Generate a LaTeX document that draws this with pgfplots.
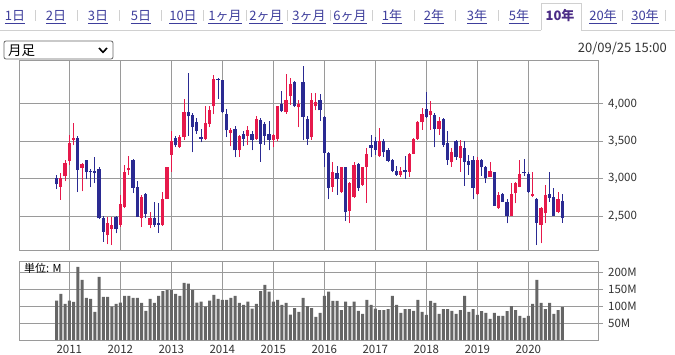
\documentclass[border=0pt]{standalone}
\usepackage{fontspec}
\setmainfont{Noto Sans CJK JP}
\usepackage{pgfplots}
\usepackage{pgfplotstable}
\pgfplotsset{compat=1.18}
\definecolor{upred}{HTML}{E6194B}
\definecolor{downblue}{HTML}{2A2A92}
\definecolor{volgray}{HTML}{666666}
\definecolor{gridgray}{HTML}{9A9A9A}
\definecolor{txt}{HTML}{333333}
\definecolor{linkc}{HTML}{3E3E9C}
\definecolor{activec}{HTML}{4B2C86}
\definecolor{sepc}{HTML}{D0D0D0}

\pgfplotstableread{
i o h l c
1 2890 3075 2720 3010
2 3030 3250 2965 3205
3 3240 3580 3185 3478
4 3520 3740 3445 3540
6 3140 3206 2830 3197
12 2245 2491 2120 2402
13 2326 2491 2111 2380
15 2380 2782 2357 2662
16 2626 3185 2603 3096
17 3110 3306 3051 3141
20 2469 2782 2357 2751
22 2380 2559 2335 2469
25 2380 2827 2370 2729
26 2729 3163 2725 3150
27 3320 3633 3096 3508
29 3423 3590 3410 3557
30 3557 4067 3521 3888
35 3535 3969 3521 3745
36 3731 3969 3687 3924
37 3969 4394 3860 4340
41 3611 3678 3432 3646
43 3378 3588 3288 3575
45 3575 3700 3454 3655
47 3530 3843 3521 3798
51 3521 3602 3418 3588
52 3530 3978 3499 3969
54 3888 4407 3870 4058
55 4103 4349 3991 4273
57 3955 4058 3687 4000
60 3552 4148 3521 4058
61 3969 4148 3915 4022
65 2894 3217 2827 3087
67 2827 3163 2814 3154
69 2572 2962 2402 2948
70 2751 3217 2738 3185
72 2917 3163 2903 3154
73 3163 3409 2680 3333
76 3297 3678 3288 3499
81 3051 3150 3029 3105
83 3096 3342 3020 3333
84 3333 3543 3329 3530
85 3535 3770 3521 3754
86 3754 3946 3655 3870
88 3857 4045 3655 3902
90 3664 3830 3590 3776
93 3217 3409 3163 3351
95 3275 3521 3096 3441
99 2791 3284 2782 3252
102 3029 3221 3020 3105
104 2603 2818 2595 2782
107 2505 2948 2500 2791
108 2805 2962 2671 2939
109 2894 3244 2885 3065
112 2774 3087 2751 2791
114 2380 2627 2134 2603
115 2536 2917 2402 2782
118 2559 2818 2536 2724
}\upT

\pgfplotstableread{
i o h l c
0 3005 3050 2860 2925
5 3550 3570 2820 3120
7 3250 3255 2990 3085
8 3105 3127 2885 3083
9 3105 3288 2940 3073
10 3132 3163 2460 2469
11 2475 2500 2156 2290
14 2492 2500 2268 2326
18 3244 3261 2805 2881
19 2894 2975 2485 2492
21 2791 2805 2469 2527
23 2469 2693 2350 2380
24 2400 2671 2277 2380
28 3543 3575 3423 3445
31 3893 4416 3575 3834
32 3857 3880 3351 3691
33 3754 3811 3602 3633
34 3555 3660 3485 3535
38 4340 4350 4067 4322
39 4318 4327 3879 3888
40 3870 3933 3557 3646
42 3664 3700 3284 3378
44 3602 3642 3432 3535
46 3602 3633 3378 3512
48 3790 3811 3230 3467
49 3736 3754 3454 3575
50 3602 3776 3378 3521
53 4000 4170 3888 3902
56 4291 4304 3955 3969
58 4295 4515 3512 3825
59 3798 3834 3454 3535
62 4058 4139 3776 3915
63 3825 3843 3154 3342
64 3342 3351 2724 2881
66 3073 3172 2782 2993
68 3154 3163 2438 2559
71 3199 3208 2841 2881
74 3454 3588 3284 3409
75 3508 3552 3320 3387
77 3508 3530 3288 3351
78 3387 3409 3217 3239
79 3252 3261 3083 3105
80 3105 3172 3038 3051
82 3114 3297 2993 3083
87 3933 4161 3811 3825
89 3857 3880 3418 3664
91 3803 3811 3423 3454
92 3477 3633 3185 3252
94 3499 3512 3252 3288
96 3409 3508 2903 3230
97 3239 3320 3051 3185
98 3252 3306 2724 2881
100 3252 3261 3038 3150
101 3163 3172 2939 3006
103 3087 3096 2635 2639
105 2791 2814 2693 2693
106 2693 2724 2402 2505
110 3096 3261 3038 3078
111 3065 3096 2814 2827
113 2724 2738 2111 2411
116 2791 3087 2693 2747
117 2760 2881 2505 2505
119 2702 2791 2411 2469
}\downT

\pgfplotstableread{
i v
0 116
1 136
2 106
3 116
4 112
5 215
6 177
7 124
8 121
9 83
10 186
11 127
12 127
13 98
14 106
15 110
16 130
17 130
18 124
19 124
20 109
21 86
22 121
23 109
24 130
25 144
26 147
27 147
28 136
29 130
30 168
31 166
32 147
33 110
34 113
35 98
36 116
37 133
38 121
39 118
40 118
41 124
42 130
43 109
44 103
45 113
46 92
47 106
48 144
49 162
50 142
51 113
52 118
53 103
54 109
55 75
56 94
57 83
58 124
59 100
60 94
61 68
62 80
63 130
64 142
65 115
66 115
67 88
68 113
69 100
70 113
71 86
72 77
73 118
74 103
75 92
76 88
77 88
78 91
79 130
80 103
81 80
82 91
83 91
84 86
85 118
86 83
87 74
88 115
89 109
90 77
91 91
92 91
93 86
94 77
95 88
96 130
97 83
98 91
99 74
100 85
101 80
102 62
103 80
104 71
105 71
106 85
107 100
108 88
109 71
110 65
111 71
112 106
113 177
114 109
115 91
116 109
117 77
118 88
119 97
}\volT

\begin{document}
\begin{tikzpicture}
\fill[white] (0,0) rectangle (675bp,-355bp);
\path[use as bounding box] (0,0) rectangle (675bp,-355bp);

% tab bar
\draw[sepc, line width=1bp] (0,-30bp) -- (541bp,-30bp);
\draw[sepc, line width=1bp] (581bp,-30bp) -- (675bp,-30bp);
\draw[sepc, line width=1bp] (541bp,-30bp) -- (541bp,-3bp) -- (581bp,-3bp) -- (581bp,-30bp);
\foreach \sx in {35,77,119,161,203,246,287,330,372,414,455,498,622,665}
  \draw[sepc, line width=0.8bp] (\sx bp,-10bp) -- (\sx bp,-21bp);
\foreach \tx/\tl in {15/1日,56/2日,98/3日,141/5日,183/10日,225/1ヶ月,266/2ヶ月,309/3ヶ月,350/6ヶ月,392/1年,434/2年,477/3年,519/5年,603/20年,645/30年}
  \node[anchor=base, inner sep=0pt, text=linkc, font=\fontsize{13bp}{15bp}\selectfont] at (\tx bp,-20.7bp) {\underline{\tl}};
\node[anchor=base, inner sep=0pt, text=activec, font=\fontsize{13bp}{15bp}\selectfont\bfseries] at (560bp,-20.7bp) {10年};

% dropdown
\draw[color=gray!80!black, rounded corners=2bp, line width=0.8bp] (4bp,-41bp) rectangle (113bp,-59bp);
\node[anchor=base west, inner sep=0pt, font=\fontsize{13.5bp}{15bp}\selectfont] at (8bp,-55bp) {月足};
\draw[line width=1.6bp, black] (99bp,-48bp) -- (103bp,-52.3bp) -- (107bp,-48bp);

% date
\node[anchor=base east, inner sep=0pt, text=txt, font=\fontsize{13bp}{15bp}\selectfont] at (667bp,-52.7bp) {20/09/25 15:00};

% price chart
\begin{axis}[
  at={(19bp,-250bp)}, anchor=south west, scale only axis,
  width=579bp, height=190bp,
  xmin=-8.84, xmax=127.4, ymin=2045, ymax=4589,
  axis line style={gridgray, line width=1bp},
  xtick={3,15,...,111}, xticklabels={}, xtick style={draw=none},
  ytick={2500,3000,3500,4000},
  yticklabels={{2,500},{3,000},{3,500},{4,000}},
  ytick pos=right, yticklabel pos=right,
  tick align=outside, major tick length=5bp,
  ytick style={gridgray, line width=1bp},
  xmajorgrids, ymajorgrids,
  grid style={gridgray, line width=1bp},
  yticklabel style={font=\fontsize{11.5bp}{13bp}\selectfont, text=txt, anchor=west, inner sep=0pt, xshift=5bp},
]
\addplot[draw=none, no markers, forget plot, error bars/.cd, y dir=plus, y explicit, error mark=none,
  error bar style={draw=upred, line width=1bp}]
  table[x=i, y=l, y error expr=\thisrow{h}-\thisrow{l}] {\upT};
\addplot[draw=none, no markers, forget plot, error bars/.cd, y dir=plus, y explicit, error mark=none,
  error bar style={draw=downblue, line width=1bp}]
  table[x=i, y=l, y error expr=\thisrow{h}-\thisrow{l}] {\downT};
\addplot[draw=none, no markers, forget plot, error bars/.cd, y dir=plus, y explicit, error mark=none,
  error bar style={draw=upred, line width=3.2bp}]
  table[x=i, y=o, y error expr=\thisrow{c}-\thisrow{o}] {\upT};
\addplot[draw=none, no markers, forget plot, error bars/.cd, y dir=plus, y explicit, error mark=none,
  error bar style={draw=downblue, line width=3.2bp}]
  table[x=i, y=c, y error expr=\thisrow{o}-\thisrow{c}] {\downT};
\end{axis}

% volume chart
\begin{axis}[
  at={(19bp,-340bp)}, anchor=south west, scale only axis,
  width=579bp, height=79bp,
  xmin=-8.84, xmax=127.4, ymin=0, ymax=232.4,
  axis line style={gridgray, line width=1bp},
  xtick={3,15,...,111}, xticklabels={2011,2012,2013,2014,2015,2016,2017,2018,2019,2020},
  xtick style={draw=none},
  ytick={50,100,150,200}, yticklabels={50M,100M,150M,200M},
  ytick pos=right, yticklabel pos=right,
  tick align=outside, major tick length=5bp,
  ytick style={gridgray, line width=1bp},
  xmajorgrids, ymajorgrids,
  grid style={gridgray, line width=1bp},
  yticklabel style={font=\fontsize{11.5bp}{13bp}\selectfont, text=txt, anchor=west, inner sep=0pt, xshift=5bp},
  xticklabel style={font=\fontsize{11.5bp}{13bp}\selectfont, text=txt, anchor=north, inner sep=0pt, yshift=0bp},
]
\addplot[ybar, bar width=3bp, fill=volgray, draw=none] table[x=i, y=v] {\volT};
\end{axis}

\node[anchor=base west, inner sep=0pt, text=black, font=\fontsize{11bp}{13bp}\selectfont] at (24bp,-272.3bp) {単位: M};
\end{tikzpicture}
\end{document}
